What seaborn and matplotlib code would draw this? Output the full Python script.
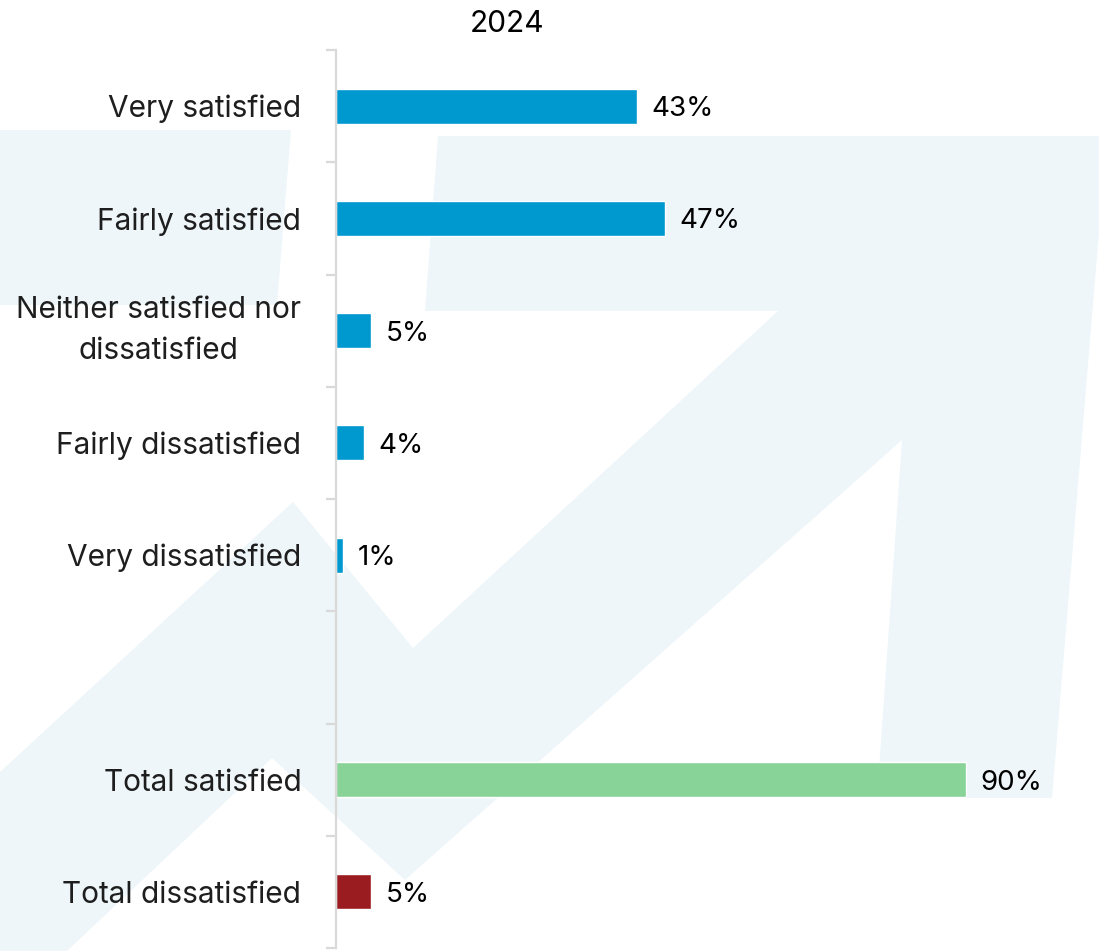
import numpy as np
import pandas as pd
import matplotlib
matplotlib.use("Agg")
import matplotlib.pyplot as plt
import seaborn as sns
from matplotlib.patches import Polygon

# Survey results: satisfaction with the service, 2024
categories = [
    "Very satisfied",
    "Fairly satisfied",
    "Neither satisfied nor\ndissatisfied",
    "Fairly dissatisfied",
    "Very dissatisfied",
    "Total satisfied",
    "Total dissatisfied",
]
values = [43, 47, 5, 4, 1, 90, 5]
bar_colors = ["#0099CF"] * 5 + ["#88D398", "#9B1C20"]
year_label = "2024"

# a blank slot separates the individual answers from the totals
gap = " "
order = categories[:5] + [gap] + categories[5:]

df = pd.DataFrame({"category": categories, "share": values})

sns.set_style("white")
plt.rcParams["font.family"] = ["Inter", "DejaVu Sans"]

W, H = 1099, 951
fig = plt.figure(figsize=(W / 100, H / 100), dpi=100)
fig.patch.set_facecolor("white")


def to_fig(points):
    return [(x / W, 1 - y / H) for x, y in points]


# faint brand mark behind the chart
shade = "#EEF6FA"
block = [(0, 130), (291, 130), (277, 305), (0, 305)]
arrow = [(0, 772), (293, 502), (413, 648), (778, 311), (425, 311), (438, 136),
         (1107, 136), (1052, 798), (877, 798), (902, 440), (405, 880),
         (272, 758), (67, 951), (0, 951)]
for shape in (block, arrow):
    fig.add_artist(Polygon(to_fig(shape), closed=True, facecolor=shade,
                           edgecolor="none", transform=fig.transFigure, zorder=0))

left, right, top, bottom = 336, W, 50, 948
ax = fig.add_axes([left / W, 1 - bottom / H, (right - left) / W, (bottom - top) / H])
ax.patch.set_alpha(0)
ax.set_zorder(1)

sns.barplot(data=df, x="share", y="category", hue="category", order=order,
            hue_order=categories, palette=dict(zip(categories, bar_colors)),
            width=0.31, legend=False, orient="h", ax=ax, saturation=1)

px_per_unit = 7.0
ax.set_xlim(0, (right - left) / px_per_unit)
ax.set_ylim(len(order) - 0.5, -0.5)

for side in ("top", "right", "bottom"):
    ax.spines[side].set_visible(False)
ax.spines["left"].set_color("#D9D9D9")
ax.spines["left"].set_linewidth(1.6)

ax.set_xticks([])
ax.set_xlabel("")
ax.set_ylabel("")

label_size = 21.5
value_size = 20
ax.set_yticks(range(len(order)))
ax.set_yticklabels([c if c != gap else "" for c in order], fontsize=label_size,
                   color="#1E1E1E")
for t in ax.get_yticklabels():
    t.set_multialignment("center")
    if "\n" in t.get_text():
        t.set_linespacing(1.6)
        t.set_verticalalignment("center")
ax.tick_params(axis="y", which="major", left=False, length=0, pad=25)
ax.set_yticks(np.arange(-0.5, len(order), 1), minor=True)
ax.tick_params(axis="y", which="minor", left=True, length=7.5, width=1.6,
               color="#D9D9D9")

for cont in ax.containers:
    for t in ax.bar_label(cont, fmt="%g%%", padding=10.5, fontsize=value_size,
                          color="black"):
        t.xyann = (10.5, -2.2)

fig.text(507 / W, 1 - 24 / H, year_label, ha="center", va="center",
         fontsize=label_size, color="black")

fig.savefig("out.png", dpi=100, facecolor="white")
